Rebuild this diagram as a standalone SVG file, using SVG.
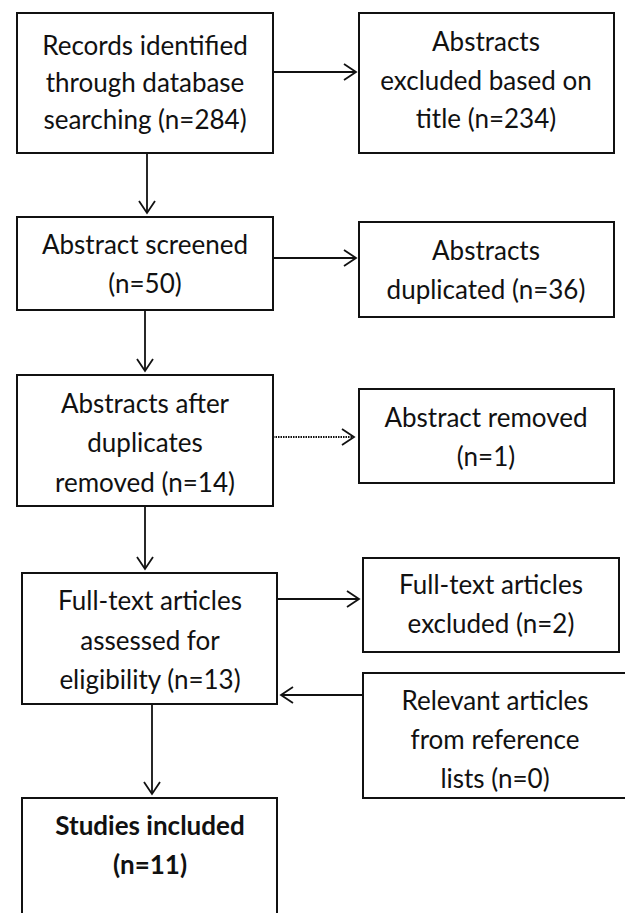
<svg xmlns="http://www.w3.org/2000/svg" width="625" height="913" viewBox="0 0 625 913">
<style>
.box{fill:#fff;stroke:#111;stroke-width:2}
.t{font-family:Lato,"Liberation Sans",sans-serif;font-size:26px;fill:#111;text-anchor:middle}
.b{font-weight:bold}
.c{fill:none;stroke:#111;stroke-width:1.8}
.d{stroke-dasharray:1.5 1}
</style>
<defs>
<marker id="ah" markerUnits="userSpaceOnUse" markerWidth="20" markerHeight="20" viewBox="-14 -10 16 20" refX="0" refY="0" orient="auto">
<path d="M-12,-8 L0,0 L-12,8" fill="none" stroke="#111" stroke-width="1.8"/>
</marker>
</defs>
<rect width="625" height="913" fill="#fff"/>
<g id="connectors">
<line class="c" x1="273" y1="72" x2="356" y2="72" marker-end="url(#ah)"/>
<line class="c" x1="147" y1="153" x2="147" y2="213" marker-end="url(#ah)"/>
<line class="c" x1="273" y1="258" x2="356" y2="258" marker-end="url(#ah)"/>
<line class="c" x1="145" y1="310" x2="145" y2="371" marker-end="url(#ah)"/>
<line class="c d" x1="273" y1="437" x2="354" y2="437" marker-end="url(#ah)"/>
<line class="c" x1="145" y1="506" x2="145" y2="569" marker-end="url(#ah)"/>
<line class="c" x1="277" y1="599" x2="359" y2="599" marker-end="url(#ah)"/>
<line class="c" x1="363" y1="695" x2="281" y2="695" marker-end="url(#ah)"/>
<line class="c" x1="152" y1="704" x2="152" y2="794" marker-end="url(#ah)"/>
</g>
<g id="records">
<rect class="box" x="17" y="13" width="256" height="140"/>
<text class="t" x="145" y="55">Records identified</text>
<text class="t" x="145" y="92">through database</text>
<text class="t" x="145" y="129">searching (n=284)</text>
</g>
<g id="excluded-title">
<rect class="box" x="359" y="13" width="255" height="140"/>
<text class="t" x="486" y="51">Abstracts</text>
<text class="t" x="486" y="90">excluded based on</text>
<text class="t" x="486" y="128">title (n=234)</text>
</g>
<g id="screened">
<rect class="box" x="17" y="217" width="256" height="93"/>
<text class="t" x="145" y="254">Abstract screened</text>
<text class="t" x="145" y="293">(n=50)</text>
</g>
<g id="duplicated">
<rect class="box" x="359" y="222" width="255" height="95"/>
<text class="t" x="486" y="260">Abstracts</text>
<text class="t" x="486" y="299">duplicated (n=36)</text>
</g>
<g id="after-duplicates">
<rect class="box" x="17" y="375" width="256" height="131"/>
<text class="t" x="145" y="413">Abstracts after</text>
<text class="t" x="145" y="452">duplicates</text>
<text class="t" x="145" y="492">removed (n=14)</text>
</g>
<g id="removed">
<rect class="box" x="359" y="389" width="255" height="94"/>
<text class="t" x="486" y="427">Abstract removed</text>
<text class="t" x="486" y="466">(n=1)</text>
</g>
<g id="fulltext">
<rect class="box" x="22" y="573" width="255" height="131"/>
<text class="t" x="150" y="610">Full-text articles</text>
<text class="t" x="150" y="650">assessed for</text>
<text class="t" x="150" y="689">eligibility (n=13)</text>
</g>
<g id="fulltext-excluded">
<rect class="box" x="363" y="558" width="256" height="94"/>
<text class="t" x="491" y="594">Full-text articles</text>
<text class="t" x="491" y="633">excluded (n=2)</text>
</g>
<g id="relevant">
<rect class="box" x="363" y="673" width="272" height="125"/>
<text class="t" x="495" y="710">Relevant articles</text>
<text class="t" x="495" y="749">from reference</text>
<text class="t" x="495" y="788">lists (n=0)</text>
</g>
<g id="included">
<rect class="box" x="22" y="798" width="255" height="140"/>
<text class="t b" x="150" y="835">Studies included</text>
<text class="t b" x="150" y="874">(n=11)</text>
</g>
</svg>
